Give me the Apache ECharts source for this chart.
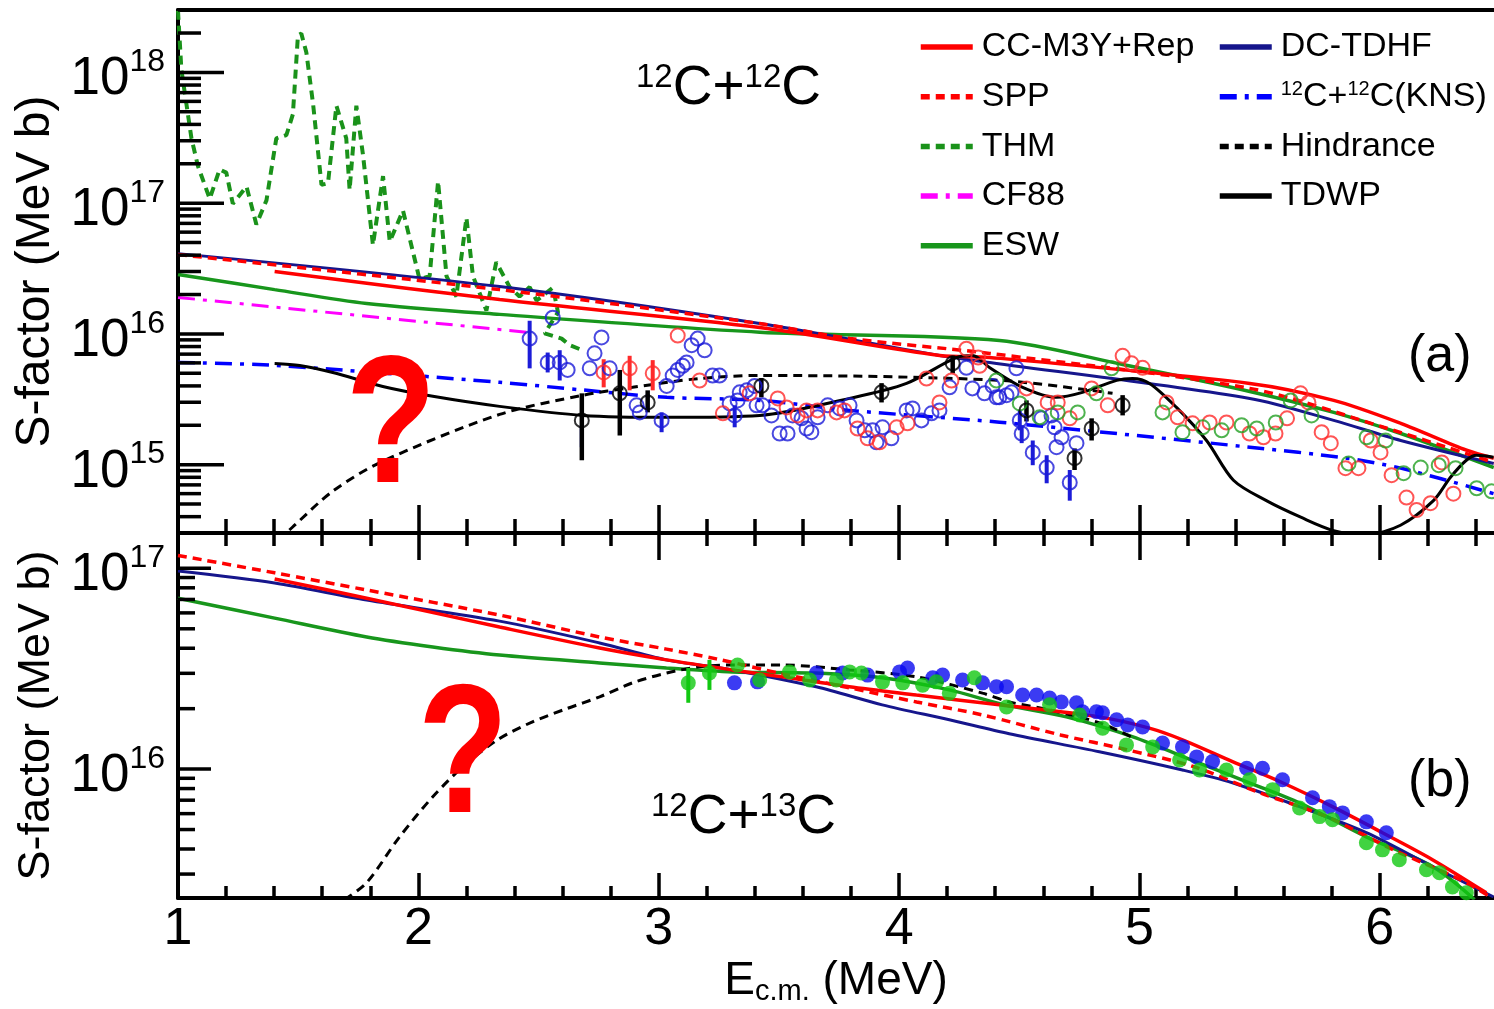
<!DOCTYPE html>
<html>
<head>
<meta charset="utf-8">
<title>S-factor 12C+12C / 12C+13C</title>
<script src="https://cdn.jsdelivr.net/npm/echarts@6.0.0/dist/echarts.min.js"></script>
<style>
html,body{margin:0;padding:0;background:#fff;}
#chart{width:1494px;height:1009px;}
</style>
</head>
<body>
<div id="chart"></div>
<script>
// ---------------- axis ranges & tick labels ----------------
const X_MIN = 1, X_MAX = 6.475;
const TOP_MIN = 3e14, TOP_MAX = 3e18;
const BOT_MIN = 2.28e15, BOT_MAX = 1.5e17;
const xTickLabels = [1, 2, 3, 4, 5, 6];
const topDecades = [1e15, 1e16, 1e17, 1e18];
const botDecades = [1e16, 1e17];

// ---------------- panel (a): 12C+12C curves [E (MeV), S (MeV b)] ----------------
const ccTop = [[1.402,3.00e16],[2.338,1.83e16],[3.42,1.12e16],[4.169,6.84e15],[4.377,6.61e15],[5.459,4.18e15],[5.808,3.10e15],[6.087,2.07e15],[6.361,1.29e15],[6.474,1.12e15]];
const sppTop = [[1.0,4.04e16],[2.338,2.18e16],[3.42,1.20e16],[3.795,9.23e15],[4.377,7.09e15],[5.459,3.83e15],[6.016,1.93e15],[6.474,1.04e15]];
const thmTop = [[1.0,2.96e18],[1.014,1.05e18],[1.035,5.73e17],[1.056,3.13e17],[1.083,1.92e17],[1.132,1.08e17],[1.173,1.81e17],[1.201,1.71e17],[1.228,9.9e16],[1.285,1.34e17],[1.326,6.87e16],[1.368,1.05e17],[1.409,3.13e17],[1.451,3.32e17],[1.478,4.78e17],[1.499,1.92e18],[1.513,1.98e18],[1.534,1.42e18],[1.562,5.73e17],[1.597,1.38e17],[1.624,1.42e17],[1.659,5.56e17],[1.700,3.13e17],[1.714,1.26e17],[1.742,5.56e17],[1.770,2.31e17],[1.811,4.78e16],[1.853,1.61e17],[1.881,5.08e16],[1.936,8.77e16],[2.005,2.61e16],[2.047,2.77e16],[2.082,1.47e17],[2.117,2.77e16],[2.158,1.93e16],[2.200,7.74e16],[2.227,2.77e16],[2.283,1.51e16],[2.324,3.53e16],[2.380,2.28e16],[2.421,1.93e16],[2.463,2.28e16],[2.492,1.80e16],[2.560,2.26e16],[2.581,1.46e16],[2.525,1.01e16],[2.596,9.2e15],[2.629,8.2e15],[2.685,7.47e15]];
const cf88Top = [[1.0,1.90e16],[2.45,1.03e16]];
const eswTop = [[1.0,2.85e16],[1.402,2.18e16],[1.785,1.71e16],[2.338,1.41e16],[3.42,1.03e16],[4.418,8.91e15],[4.93,5.83e15],[5.459,3.63e15],[5.808,2.51e15],[6.087,1.73e15],[6.474,9.5e14]];
const dcTop = [[1.0,4.11e16],[2.338,2.30e16],[3.42,1.20e16],[4.169,6.84e15],[4.377,6.05e15],[5.459,3.21e15],[5.808,2.18e15],[6.087,1.53e15],[6.474,1.02e15]];
const knsTop = [[1.0,6.05e15],[1.402,5.74e15],[2.338,4.26e15],[2.70,3.70e15],[3.034,3.27e15],[3.42,3.10e15],[3.795,2.60e15],[4.418,2.11e15],[5.459,1.36e15],[5.862,1.12e15],[6.087,9.4e14],[6.474,6.0e14]];
const hindTop = [[1.417,2.64e14],[1.476,3.32e14],[1.643,6.25e14],[1.851,1.06e15],[2.338,2.42e15],[2.683,3.39e15],[2.891,3.90e15],[3.17,4.56e15],[3.42,4.81e15],[4.418,4.41e15],[4.888,3.51e15]];
const tdwpTop = [[1.402,5.94e15],[1.506,5.74e15],[1.644,5.07e15],[1.852,3.96e15],[2.060,3.33e15],[2.338,2.79e15],[2.684,2.38e15],[3.033,2.30e15],[3.420,2.38e15],[3.794,3.21e15],[4.031,4.18e15],[4.239,6.61e15],[4.306,6.84e15],[4.376,5.54e15],[4.514,3.90e15],[4.655,3.27e15],[4.763,3.57e15],[4.905,4.41e15],[4.971,4.56e15],[5.042,4.18e15],[5.154,2.74e15],[5.279,1.53e15],[5.391,7.6e14],[5.528,5.3e14],[5.671,3.96e14],[5.808,3.13e14],[5.945,2.92e14],[6.086,3.44e14],[6.223,5.3e14],[6.294,8.0e14],[6.360,1.08e15],[6.402,1.18e15],[6.473,1.14e15]];

// ---------------- panel (a): measured points ----------------
const blueTop = [[2.463,9.2e15],[2.559,1.33e16],[2.538,6.05e15],[2.588,6.05e15],[2.621,5.3e15],[2.762,9.4e15],[2.733,7.1e15],[2.713,5.45e15],[2.796,5.45e15],[2.908,2.84e15],[2.921,2.51e15],[3.012,2.18e15],[3.033,4.0e15],[3.058,4.8e15],[3.079,5.3e15],[3.100,5.7e15],[3.116,6.05e15],[3.137,8.2e15],[3.162,9.2e15],[3.191,7.5e15],[3.224,4.8e15],[3.253,4.8e15],[3.295,2.94e15],[3.328,3.1e15],[3.316,2.38e15],[3.366,3.7e15],[3.407,2.84e15],[3.337,3.57e15],[3.399,4.0e15],[3.432,2.84e15],[3.469,2.38e15],[3.503,1.73e15],[3.536,1.73e15],[3.557,2.38e15],[3.594,2.26e15],[3.615,1.89e15],[3.635,1.77e15],[3.661,2.30e15],[3.703,2.84e15],[3.753,2.69e15],[3.794,2.84e15],[3.823,2.18e15],[3.857,1.83e15],[3.890,1.83e15],[3.931,1.93e15],[3.906,1.48e15],[3.968,1.59e15],[4.031,2.60e15],[4.056,2.69e15],[4.093,2.18e15],[4.135,2.47e15],[4.168,2.60e15],[4.210,3.90e15],[4.280,5.5e15],[4.305,3.83e15],[4.355,3.51e15],[4.389,4.0e15],[4.405,3.27e15],[4.488,5.45e15],[4.417,3.27e15],[4.447,3.4e15],[4.468,3.57e15],[4.502,2.18e15],[4.510,1.73e15],[4.556,1.24e15],[4.614,9.5e14],[4.710,7.3e14],[4.676,1.62e15],[4.655,1.36e15],[4.647,1.93e15],[4.738,1.46e15],[4.592,2.26e15],[4.634,2.38e15]];
const blueTopErr = [[2.463,5.45e15,1.26e16],[2.538,5.07e15,7.2e15],[2.588,4.4e15,7.5e15],[2.68,1.36e15,2.0e15],[3.012,1.77e15,2.51e15],[3.316,1.93e15,2.84e15],[4.502,1.83e15,2.60e15],[4.510,1.46e15,2.00e15],[4.556,9.9e14,1.53e15],[4.614,7.2e14,1.18e15],[4.710,5.3e14,9.1e14]];
const redTop = [[3.079,9.7e15],[2.771,5.07e15],[2.879,5.45e15],[2.975,4.99e15],[3.170,4.4e15],[3.267,2.47e15],[3.378,3.51e15],[3.495,3.21e15],[3.532,2.74e15],[3.578,2.38e15],[3.615,2.60e15],[3.661,2.60e15],[3.740,2.51e15],[3.773,2.60e15],[3.827,1.89e15],[3.869,1.59e15],[3.919,1.48e15],[3.990,1.93e15],[4.035,2.07e15],[4.114,4.56e15],[4.168,2.99e15],[4.218,4.4e15],[4.280,7.7e15],[4.329,6.6e15],[4.335,5.7e15],[4.530,3.83e15],[4.618,2.99e15],[4.660,2.99e15],[4.710,2.26e15],[4.801,3.83e15],[4.868,2.84e15],[4.930,6.8e15],[4.967,5.95e15],[5.013,5.5e15],[5.113,2.99e15],[5.159,2.30e15],[5.221,2.07e15],[5.292,2.10e15],[5.362,2.10e15],[5.458,1.73e15],[5.516,1.62e15],[5.566,1.73e15],[5.614,2.26e15],[5.670,3.51e15],[5.703,2.99e15],[5.758,1.77e15],[5.796,1.46e15],[5.962,1.53e15],[6.003,1.24e15],[5.857,9.4e14],[5.911,9.4e14],[6.049,8.3e14],[6.111,5.6e14],[6.153,4.5e14],[6.211,5.07e14],[6.258,1.04e15],[6.306,6.0e14]];
const redTopErr = [[2.771,3.9e15,6.4e15],[2.879,3.7e15,6.8e15],[2.975,3.7e15,6.3e15]];
const greenTop = [[4.405,4.4e15],[4.502,2.94e15],[4.585,2.30e15],[4.660,2.51e15],[4.743,2.51e15],[4.821,3.51e15],[4.884,5.45e15],[5.096,2.51e15],[5.179,1.77e15],[5.263,1.93e15],[5.342,1.83e15],[5.425,2.00e15],[5.488,1.89e15],[5.567,2.10e15],[5.629,3.1e15],[5.716,2.38e15],[5.945,1.62e15],[6.024,1.53e15],[5.870,1.02e15],[6.170,9.5e14],[6.099,8.6e14],[6.245,9.9e14],[6.315,9.4e14],[6.403,6.6e14],[6.465,6.25e14]];
const blackTop = [[2.680,2.18e15],[2.838,3.51e15],[2.954,2.99e15],[3.427,4.0e15],[3.927,3.57e15],[4.223,5.95e15],[4.530,2.60e15],[4.730,1.12e15],[4.801,1.89e15],[4.930,2.84e15]];
const blackTopErr = [[2.680,1.08e15,3.51e15],[2.838,1.67e15,5.3e15],[2.954,2.51e15,3.7e15],[3.427,3.27e15,4.6e15],[3.927,2.99e15,4.2e15],[4.223,5.0e15,6.8e15],[4.530,2.14e15,3.1e15],[4.730,9.1e14,1.33e15],[4.801,1.53e15,2.26e15],[4.930,2.38e15,3.4e15]];

// ---------------- panel (b): 12C+13C curves ----------------
const ccBot = [[1.402,8.85e16],[1.785,7.1e16],[2.338,5.1e16],[2.754,4.01e16],[3.032,3.50e16],[3.306,3.12e16],[3.514,2.88e16],[3.793,2.57e16],[4.072,2.34e16],[4.417,2.09e16],[4.833,1.82e16],[5.041,1.60e16],[5.179,1.40e16],[5.387,1.09e16],[5.595,8.55e15],[5.803,6.5e15],[6.011,4.82e15],[6.219,3.54e15],[6.443,2.42e15]];
const sppBot = [[1.0,1.16e17],[1.402,9.5e16],[1.785,7.8e16],[2.338,5.85e16],[2.754,4.55e16],[3.032,3.96e16],[3.240,3.54e16],[3.516,2.98e16],[3.794,2.54e16],[4.073,2.16e16],[4.348,1.86e16],[4.671,1.48e16],[4.946,1.25e16],[5.224,1.03e16],[5.503,7.6e15],[5.778,5.8e15],[6.057,3.96e15],[6.336,2.81e15],[6.465,2.29e15]];
const eswBot = [[1.0,7.1e16],[1.402,5.65e16],[1.785,4.55e16],[2.060,4.06e16],[2.338,3.70e16],[2.754,3.38e16],[3.032,3.19e16],[3.306,3.05e16],[3.655,3.01e16],[3.930,2.85e16],[4.209,2.48e16],[4.438,2.09e16],[4.696,1.82e16],[4.970,1.45e16],[5.249,1.07e16],[5.457,8.55e15],[5.665,6.8e15],[5.944,4.6e15],[6.219,3.27e15],[6.394,2.24e15]];
const dcBot = [[1.0,9.7e16],[1.402,8.45e16],[1.785,6.95e16],[2.338,5.46e16],[2.754,4.25e16],[3.032,3.50e16],[3.306,3.12e16],[3.655,2.57e16],[3.930,2.09e16],[4.209,1.76e16],[4.458,1.50e16],[4.833,1.22e16],[5.179,9.9e15],[5.387,8.55e15],[5.666,6.5e15],[5.944,4.82e15],[6.219,3.27e15],[6.473,2.31e15]];
const hindBot = [[1.693,2.24e15],[1.785,2.72e15],[1.922,4.6e15],[2.060,7.28e15],[2.201,1.07e16],[2.338,1.42e16],[2.475,1.72e16],[2.617,2.00e16],[2.754,2.29e16],[2.891,2.69e16],[3.033,3.01e16],[3.170,3.23e16],[3.307,3.30e16],[3.515,3.30e16],[3.794,3.12e16],[4.073,2.88e16],[4.347,2.39e16],[4.459,2.16e16],[4.626,1.97e16],[4.834,1.70e16],[4.975,1.43e16]];

// ---------------- panel (b): measured points ----------------
const greenBot = [[3.123,2.69e16],[3.211,3.01e16],[3.328,3.30e16],[3.420,2.78e16],[3.544,3.05e16],[3.628,2.78e16],[3.739,2.78e16],[3.794,3.05e16],[3.843,3.01e16],[3.931,2.72e16],[4.015,2.69e16],[4.098,2.62e16],[4.155,2.72e16],[4.209,2.39e16],[4.313,2.85e16],[4.447,2.04e16],[4.626,2.09e16],[4.751,1.86e16],[4.847,1.60e16],[4.946,1.32e16],[5.055,1.29e16],[5.167,1.11e16],[5.250,9.9e15],[5.362,9.9e15],[5.458,8.85e15],[5.554,7.9e15],[5.666,6.4e15],[5.749,5.8e15],[5.803,5.6e15],[5.944,4.3e15],[6.011,3.96e15],[6.081,3.54e15],[6.194,3.15e15],[6.248,3.05e15],[6.302,2.59e15],[6.360,2.42e15]];
const greenBotErr = [[3.123,2.14e16,3.19e16],[3.211,2.48e16,3.50e16]];
const blueBot = [[3.315,2.69e16],[3.411,2.72e16],[3.656,3.01e16],[3.765,3.01e16],[3.869,2.94e16],[4.002,3.05e16],[4.035,3.19e16],[4.140,2.85e16],[4.181,2.94e16],[4.264,2.78e16],[4.347,2.69e16],[4.405,2.57e16],[4.447,2.57e16],[4.514,2.34e16],[4.572,2.34e16],[4.626,2.26e16],[4.675,2.16e16],[4.738,2.14e16],[4.763,1.93e16],[4.821,1.93e16],[4.846,1.91e16],[4.905,1.76e16],[4.951,1.66e16],[5.013,1.62e16],[5.096,1.35e16],[5.179,1.29e16],[5.238,1.15e16],[5.304,1.09e16],[5.446,1.01e16],[5.512,1.01e16],[5.595,8.85e15],[5.720,7.2e15],[5.790,6.5e15],[5.845,6.05e15],[5.944,5.46e15],[6.027,4.82e15]];

// ---------------- styling ----------------
const FONT = '"Liberation Sans", Arial, Helvetica, sans-serif';
const RED = '#ff0000', NAVY = '#16168c', GREEN = '#18961c', THMG = '#1a921a', MAG = '#ff00ff', BLUE = '#0000ff';
const PT_BLUE = '#1c1cd8', PT_RED = '#ff2a2a', PT_GREEN = '#23a023', PT_LGREEN = '#12c812', PT_DBLUE = '#0a0af0';
const DASH = [9, 6], DASHDOT = [17, 8, 4, 8];
const KNS = '12C+12C(KNS)';

// tick value lists (minor ticks at 2..9 x 10^n, 0.2 MeV on x)
const xMinor = [];
for (let i = 5; i <= 33; i++) { const v = Math.round(i * 2) / 10; if (Math.abs(v - Math.round(v)) > 1e-9 && v <= X_MAX) xMinor.push(v); }
function minorLog(lo, hi) {
  const out = [];
  for (let d = 13; d <= 18; d++) for (let m = 2; m <= 9; m++) { const v = m * Math.pow(10, d); if (v >= lo * 0.999 && v <= hi * 1.001) out.push(v); }
  return out;
}
const topMinor = minorLog(TOP_MIN, TOP_MAX), botMinor = minorLog(BOT_MIN, BOT_MAX);

function xAx(gridIndex, position, ticks, len, showLine, extra) {
  const a = {
    type: 'value', gridIndex, position, min: X_MIN, max: X_MAX,
    axisLine: { show: showLine, onZero: false, lineStyle: { color: '#000', width: 4 } },
    axisTick: ticks ? { show: true, inside: true, length: len, customValues: ticks, lineStyle: { color: '#000', width: 3.5 } } : { show: false },
    axisLabel: { show: false },
    splitLine: { show: false }, minorTick: { show: false }
  };
  return Object.assign(a, extra || {});
}
const expLabel = v => { const e = Math.log10(v); const r = Math.round(e); return Math.abs(e - r) < 1e-6 ? '{b|10}{s|' + r + '}' : ''; };
function yAx(gridIndex, min, max, nameSize, nameGap) {
  return {
    type: 'log', logBase: 10, gridIndex, min, max, position: 'left',
    axisLine: { show: true, lineStyle: { color: '#000', width: 4 } },
    axisTick: { show: false }, splitLine: { show: false }, minorTick: { show: false },
    axisLabel: {
      formatter: expLabel, margin: 13, padding: [8, 0, 0, 0],
      rich: {
        b: { fontSize: 53, fontFamily: FONT, color: '#000', lineHeight: 60, verticalAlign: 'bottom' },
        s: { fontSize: 32, fontFamily: FONT, color: '#000', lineHeight: 28, verticalAlign: 'top' }
      }
    },
    name: 'S-factor (MeV b)', nameLocation: 'middle', nameRotate: 90, nameGap,
    nameTextStyle: { fontSize: nameSize, fontFamily: FONT, color: '#000' }
  };
}
function yTicks(values, panel, len) {
  return {
    type: 'custom', silent: true, clip: false, z: 20,
    xAxisIndex: panel === 0 ? 0 : 3, yAxisIndex: panel,
    encode: { x: 0, y: 1 },
    data: values.map(v => [X_MIN, v]),
    renderItem: (p, api) => {
      const c = api.coord([api.value(0), api.value(1)]);
      return { type: 'line', shape: { x1: c[0], y1: c[1], x2: c[0] + len, y2: c[1] }, style: { stroke: '#000', lineWidth: 3.5 } };
    }
  };
}
function curve(name, data, color, dash, width, panel, smooth) {
  return {
    type: 'line', name, data, xAxisIndex: panel === 0 ? 0 : 3, yAxisIndex: panel,
    symbol: 'none', showSymbol: false, smooth: smooth || false, clip: true, z: 3,
    lineStyle: { color, width, type: dash || 'solid' }, itemStyle: { color },
    emphasis: { disabled: true }
  };
}
function pts(data, color, filled, panel, size) {
  return {
    type: 'scatter', data, xAxisIndex: panel === 0 ? 0 : 3, yAxisIndex: panel,
    symbol: 'circle', symbolSize: size, clip: true, z: 4,
    itemStyle: filled ? { color } : { color: 'rgba(0,0,0,0)', borderColor: color, borderWidth: 2 },
    emphasis: { disabled: true }
  };
}
function errs(data, color, panel, w) {
  return {
    type: 'custom', data, xAxisIndex: panel === 0 ? 0 : 3, yAxisIndex: panel,
    encode: { x: 0, y: [1, 2] }, clip: true, z: 4, silent: true,
    renderItem: (p, api) => {
      const a = api.coord([api.value(0), api.value(1)]);
      const b = api.coord([api.value(0), api.value(2)]);
      return { type: 'line', shape: { x1: a[0], y1: a[1], x2: b[0], y2: b[1] }, style: { stroke: color, lineWidth: w } };
    }
  };
}
const legendBase = {
  orient: 'vertical', padding: 0, itemWidth: 52, itemHeight: 34, itemGap: 15.7, selectedMode: false,
  textStyle: { fontSize: 34, lineHeight: 34, fontFamily: FONT, color: '#000', padding: [0, 0, 0, 4],
    rich: { s: { fontSize: 20, lineHeight: 12, verticalAlign: 'top', fontFamily: FONT, color: '#000' } } },
  lineStyle: { width: 5.5 },
  itemStyle: { color: 'rgba(0,0,0,0)', borderColor: 'rgba(0,0,0,0)', borderWidth: 0, opacity: 0 },
  formatter: n => n === KNS ? '{s|12}C+{s|12}C(KNS)' : n
};
const annRich = {
  b: { fontSize: 55, lineHeight: 55, fontFamily: FONT, fill: '#000' },
  s: { fontSize: 33, lineHeight: 20, verticalAlign: 'top', fontFamily: FONT, fill: '#000' }
};

const option = {
  animation: false,
  backgroundColor: '#ffffff',
  textStyle: { fontFamily: FONT },
  grid: [
    { left: 178, top: 10, right: 0, height: 523, containLabel: false, outerBoundsMode: 'none' },
    { left: 178, top: 533, right: 0, height: 365, containLabel: false, outerBoundsMode: 'none' }
  ],
  xAxis: [
    xAx(0, 'bottom', xTickLabels, 28, true),
    xAx(0, 'bottom', xMinor, 14, false),
    xAx(0, 'top', null, 0, true),
    xAx(1, 'bottom', xTickLabels, 25, true, {
      axisLabel: { show: true, customValues: xTickLabels, fontSize: 52, fontFamily: FONT, color: '#000', margin: 6 },
      name: '{e|E}{sub|c.m.}{e| (MeV)}', nameLocation: 'middle', nameGap: 58,
      nameTextStyle: { rich: {
        e: { fontSize: 46, lineHeight: 50, fontFamily: FONT, color: '#000' },
        sub: { fontSize: 29, lineHeight: 20, verticalAlign: 'bottom', fontFamily: FONT, color: '#000' } } }
    }),
    xAx(1, 'bottom', xMinor, 12, false),
    xAx(1, 'top', xTickLabels, 27, true),
    xAx(1, 'top', xMinor, 13, false)
  ],
  yAxis: [
    yAx(0, TOP_MIN, TOP_MAX, 48, 116),
    yAx(1, BOT_MIN, BOT_MAX, 45, 108)
  ],
  legend: [
    Object.assign({}, legendBase, { left: 918, top: 30, data: ['CC-M3Y+Rep', 'SPP', 'THM', 'CF88', 'ESW'] }),
    Object.assign({}, legendBase, { left: 1217, top: 30, data: ['DC-TDHF', KNS, 'Hindrance', 'TDWP'] })
  ],
  graphic: [
    { type: 'text', x: 636, y: 89, z: 50, style: { text: '{s|12}{b|C+}{s|12}{b|C}', rich: annRich, fill: '#000', fontSize: 55, fontFamily: FONT, align: 'left', verticalAlign: 'middle' } },
    { type: 'text', x: 651, y: 818, z: 50, style: { text: '{s|12}{b|C+}{s|13}{b|C}', rich: annRich, fill: '#000', fontSize: 55, fontFamily: FONT, align: 'left', verticalAlign: 'middle' } },
    { type: 'text', x: 1408, y: 357, z: 50, style: { text: '(a)', fontSize: 52, fontFamily: FONT, fill: '#000', align: 'left', verticalAlign: 'middle' } },
    { type: 'text', x: 1408, y: 782, z: 50, style: { text: '(b)', fontSize: 52, fontFamily: FONT, fill: '#000', align: 'left', verticalAlign: 'middle' } },
    { type: 'text', x: 391, y: 432, scaleX: 0.86, scaleY: 1.06, z: 60, style: { text: '?', fontSize: 172, fontWeight: 'bold', fontFamily: FONT, fill: '#ff0000', align: 'center', verticalAlign: 'middle' } },
    { type: 'text', x: 463, y: 761, scaleX: 0.86, scaleY: 1.07, z: 60, style: { text: '?', fontSize: 172, fontWeight: 'bold', fontFamily: FONT, fill: '#ff0000', align: 'center', verticalAlign: 'middle' } }
  ],
  series: [
    // panel (a) curves
    curve('CF88', cf88Top, MAG, DASHDOT, 3, 0),
    curve('THM', thmTop, THMG, DASH, 4, 0),
    curve(KNS, knsTop, BLUE, DASHDOT, 3.5, 0, 0.3),
    curve('Hindrance', hindTop, '#000', DASH, 3, 0, 0.3),
    curve('ESW', eswTop, GREEN, 'solid', 3.5, 0, 0.3),
    curve('DC-TDHF', dcTop, NAVY, 'solid', 3, 0, 0.3),
    curve('SPP', sppTop, RED, DASH, 3.5, 0, 0.3),
    curve('CC-M3Y+Rep', ccTop, RED, 'solid', 3.5, 0, 0.3),
    // panel (a) data
    errs(blueTopErr, PT_BLUE, 0, 4),
    errs(redTopErr, PT_RED, 0, 4),
    pts(blueTop, PT_BLUE, false, 0, 14),
    pts(redTop, PT_RED, false, 0, 14),
    pts(greenTop, PT_GREEN, false, 0, 14),
    errs(blackTopErr, '#000', 0, 4.5),
    pts(blackTop, '#000', false, 0, 14),
    curve('TDWP', tdwpTop, '#000', 'solid', 3, 0, 0.3),
    // panel (b) curves
    curve('ESW', eswBot, GREEN, 'solid', 3.5, 1, 0.3),
    curve('Hindrance', hindBot, '#000', DASH, 3, 1, 0.3),
    curve('DC-TDHF', dcBot, NAVY, 'solid', 3, 1, 0.3),
    curve('SPP', sppBot, RED, DASH, 3.5, 1, 0.3),
    curve('CC-M3Y+Rep', ccBot, RED, 'solid', 3.5, 1, 0.3),
    // panel (b) data
    pts(blueBot, PT_DBLUE, true, 1, 15),
    errs(greenBotErr, PT_LGREEN, 1, 4),
    pts(greenBot, PT_LGREEN, true, 1, 15),
    // y-axis ticks
    yTicks(topDecades, 0, 46), yTicks(topMinor, 0, 23),
    yTicks(botDecades, 1, 33), yTicks(botMinor, 1, 17)
  ]
};
const chart = echarts.init(document.getElementById('chart'), null, { renderer: 'canvas' });
chart.setOption(option);
</script>
</body>
</html>
